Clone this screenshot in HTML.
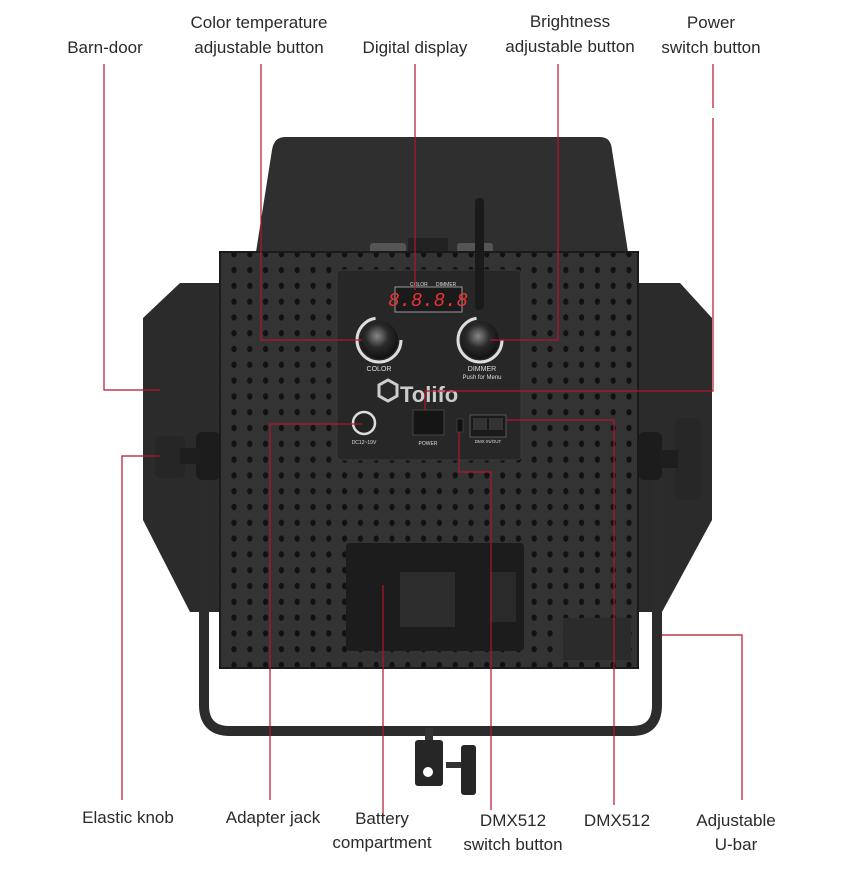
<!DOCTYPE html>
<html><head><meta charset="utf-8"><style>
html,body{margin:0;padding:0;background:#fff;}
svg{display:block}
text{font-family:"Liberation Sans Narrow","Liberation Sans",sans-serif;font-size:17px;fill:#2a2a2a}
</style></head><body>
<svg width="848" height="870" viewBox="0 0 848 870" xmlns="http://www.w3.org/2000/svg">
<defs>
<pattern id="holes" x="226" y="262" width="15.8" height="15.8" patternUnits="userSpaceOnUse">
<ellipse cx="8" cy="8" rx="2.6" ry="3.2" fill="#111"/>
</pattern>
<radialGradient id="knob" cx="0.45" cy="0.4" r="0.6"><stop offset="0" stop-color="#888"/><stop offset="0.5" stop-color="#2a2a2a"/><stop offset="1" stop-color="#111"/></radialGradient>
</defs>
<!-- top barn door -->
<path d="M285,137 L600,137 Q611,137 612,150 L628,252 L256,252 L272,150 Q274,137 285,137Z" fill="#2f2f2f"/>
<!-- side barn doors -->
<path d="M220,283 L180,283 L143,318 L143,520 L190,612 L220,612Z" fill="#2b2b2b"/>
<path d="M638,283 L680,283 L712,318 L712,520 L662,612 L638,612Z" fill="#2b2b2b"/>
<!-- U bar -->
<path d="M204,450 L204,705 Q204,731 230,731 L632,731 Q657,731 657,705 L657,450" fill="none" stroke="#2c2c2c" stroke-width="10"/>
<!-- side knobs -->
<rect x="196" y="432" width="24" height="48" rx="6" fill="#1c1c1c"/>
<rect x="155" y="436" width="30" height="42" rx="5" fill="#262626"/>
<rect x="180" y="448" width="20" height="16" fill="#1e1e1e"/>
<rect x="638" y="432" width="24" height="48" rx="6" fill="#1c1c1c"/>
<rect x="675" y="418" width="26" height="82" rx="5" fill="#272727"/>
<rect x="660" y="450" width="18" height="18" fill="#1e1e1e"/>
<!-- top clips -->
<rect x="370" y="243" width="36" height="12" rx="3" fill="#555"/>
<rect x="457" y="243" width="36" height="12" rx="3" fill="#555"/>
<rect x="408" y="238" width="40" height="16" fill="#222"/>
<!-- panel -->
<rect x="220" y="252" width="418" height="416" fill="#333"/>
<rect x="220" y="252" width="418" height="416" fill="url(#holes)"/>
<rect x="220" y="252" width="418" height="416" fill="none" stroke="#1a1a1a" stroke-width="2"/>
<!-- control box -->
<rect x="337" y="270" width="184" height="190" rx="4" fill="#272727" stroke="#3a3a3a"/>
<rect x="395" y="287" width="67" height="25" fill="#1a1a1a" stroke="#999" stroke-width="1"/>
<text x="428" y="306" text-anchor="middle" style="font-family:'Liberation Mono',monospace;font-size:19px;fill:#e33;font-style:italic">8.8.8.8</text>
<text x="410" y="286" style="font-size:5px;fill:#ddd">COLOR</text>
<text x="436" y="286" style="font-size:5px;fill:#ddd">DIMMER</text>
<!-- antenna -->
<rect x="475" y="198" width="9" height="112" rx="4" fill="#1a1a1a"/>
<!-- knobs -->
<circle cx="379" cy="340" r="22" fill="none" stroke="#ddd" stroke-width="3" stroke-dasharray="100 40"/>
<circle cx="379" cy="340" r="19" fill="url(#knob)"/>
<circle cx="480" cy="340" r="22" fill="none" stroke="#ddd" stroke-width="3" stroke-dasharray="100 40"/>
<circle cx="480" cy="340" r="19" fill="url(#knob)"/>
<text x="379" y="371" text-anchor="middle" style="font-size:7px;fill:#ddd">COLOR</text>
<text x="482" y="371" text-anchor="middle" style="font-size:7px;fill:#ddd">DIMMER</text>
<text x="482" y="379" text-anchor="middle" style="font-size:6px;fill:#ddd">Push for Menu</text>
<!-- logo -->
<path d="M388,380 l9,5 v11 l-9,5 l-9,-5 v-11z" fill="none" stroke="#ccc" stroke-width="3"/>
<text x="400" y="402" style="font-family:'Liberation Sans',sans-serif;font-weight:bold;font-size:22px;fill:#ccc">Tolifo</text>
<!-- DC jack -->
<circle cx="364" cy="423" r="11" fill="#222" stroke="#ddd" stroke-width="2.5"/>
<text x="364" y="444" text-anchor="middle" style="font-size:5px;fill:#ddd">DC12~19V</text>
<!-- power switch -->
<rect x="413" y="410" width="31" height="25" fill="#151515" stroke="#444"/>
<text x="428" y="445" text-anchor="middle" style="font-size:5px;fill:#ddd">POWER</text>
<rect x="457" y="419" width="6" height="13" fill="#111" stroke="#555" stroke-width="0.5"/>
<rect x="470" y="415" width="36" height="22" fill="#1a1a1a" stroke="#666" stroke-width="0.8"/>
<rect x="473" y="418" width="14" height="12" fill="#333"/>
<rect x="489" y="418" width="14" height="12" fill="#333"/>
<text x="488" y="443" text-anchor="middle" style="font-size:4.5px;fill:#ddd">DMX IN/OUT</text>
<!-- battery plate -->
<rect x="346" y="543" width="178" height="108" rx="4" fill="#1c1c1c"/>
<rect x="400" y="572" width="55" height="55" fill="#2d2d2d"/>
<rect x="490" y="572" width="26" height="50" fill="#2a2a2a"/>
<!-- label sticker -->
<rect x="563" y="618" width="68" height="42" fill="#2b2b2b"/>
<!-- spigot -->
<rect x="415" y="740" width="28" height="46" rx="3" fill="#262626"/>
<rect x="425" y="728" width="8" height="12" fill="#333"/>
<circle cx="428" cy="772" r="5" fill="#fff"/>
<rect x="446" y="762" width="16" height="6" fill="#333"/>
<rect x="461" y="745" width="15" height="50" rx="3" fill="#262626"/>
<!-- red leader lines -->
<g stroke="#b5142b" stroke-width="1.2" fill="none">
<path d="M104,64 V390 H160"/>
<path d="M261,64 V340 H362"/>
<path d="M415,64 V290"/>
<path d="M558,64 V340 H490"/>
<path d="M713,64 V108 M713,118 V391 H425 V410"/>
<path d="M122,800 V456 H160"/>
<path d="M270,800 V424 H362"/>
<path d="M383,820 V585"/>
<path d="M491,810 V472 H459 V432"/>
<path d="M614,805 V420 H506"/>
<path d="M742,800 V635 H662"/>
</g>
<!-- labels -->
<text x="105" y="53" text-anchor="middle">Barn-door</text>
<text x="259" y="28" text-anchor="middle">Color temperature</text>
<text x="259" y="53" text-anchor="middle">adjustable button</text>
<text x="415" y="53" text-anchor="middle">Digital display</text>
<text x="570" y="27" text-anchor="middle">Brightness</text>
<text x="570" y="52" text-anchor="middle">adjustable button</text>
<text x="711" y="28" text-anchor="middle">Power</text>
<text x="711" y="53" text-anchor="middle">switch button</text>
<text x="128" y="823" text-anchor="middle">Elastic knob</text>
<text x="273" y="823" text-anchor="middle">Adapter jack</text>
<text x="382" y="824" text-anchor="middle">Battery</text>
<text x="382" y="848" text-anchor="middle">compartment</text>
<text x="513" y="826" text-anchor="middle">DMX512</text>
<text x="513" y="850" text-anchor="middle">switch button</text>
<text x="617" y="826" text-anchor="middle">DMX512</text>
<text x="736" y="826" text-anchor="middle">Adjustable</text>
<text x="736" y="850" text-anchor="middle">U-bar</text>
</svg>
</body></html>
